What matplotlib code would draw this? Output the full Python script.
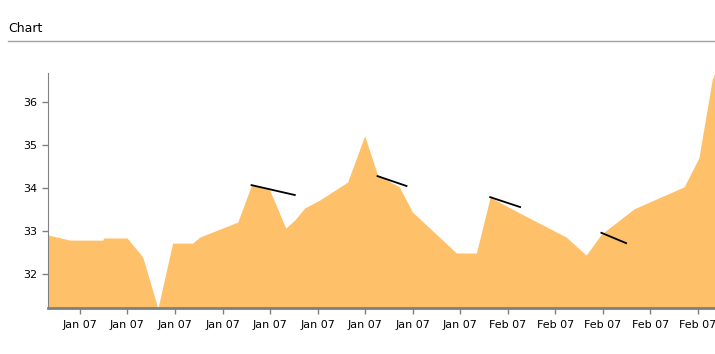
import matplotlib.pyplot as plt
from matplotlib.lines import Line2D

# area series (x in tick units, tick n sits at x = n)
xs = [0.328, 0.79, 1.48, 1.50, 1.99, 2.32, 2.64, 2.95, 3.37, 3.52, 4.32, 4.61,
      4.99, 5.33, 5.52, 5.73, 6.04, 6.63, 6.99, 7.26, 7.72, 7.99, 8.92, 9.34,
      9.63, 10.20, 11.23, 11.65, 11.97, 12.66, 13.71, 14.02, 14.30, 14.36]
vals = [32.91, 32.79, 32.79, 32.84, 32.84, 32.40, 31.20, 32.72, 32.72, 32.86,
        33.21, 34.07, 33.96, 33.07, 33.26, 33.54, 33.72, 34.14, 35.22, 34.31,
        34.03, 33.45, 32.49, 32.49, 33.79, 33.45, 32.86, 32.44, 32.93, 33.52,
        34.03, 34.70, 36.52, 36.70]

# short black trend segments
seg_x = [(4.61, 5.52), (7.26, 7.87), (9.63, 10.26), (11.97, 12.49)]
seg_y = [(34.07, 33.84), (34.28, 34.05), (33.79, 33.56), (32.96, 32.72)]

tick_pos = list(range(1, 15))
tick_labels = ["Jan 07"] * 9 + ["Feb 07"] * 5

fig = plt.figure(figsize=(7.15, 3.54), dpi=100)
fig.text(8 / 715, 1 - 28 / 354, "Chart", fontsize=9, va="center", ha="left")
fig.add_artist(Line2D([8 / 715, 1], [1 - 41 / 354] * 2, color="#a0a0a0", lw=1))

ax = fig.add_axes([48 / 715, 46 / 354, 1 - 48 / 715, 235 / 354])
ax.fill_between(xs, vals, 31.21, color="#fec068", lw=0)
for sx, sy in zip(seg_x, seg_y):
    ax.plot(sx, sy, color="black", lw=1.3)

ax.set_xlim(0.328, 14.36)
ax.set_ylim(31.21, 36.68)
ax.set_yticks([32, 33, 34, 35, 36])
ax.set_xticks(tick_pos)
ax.set_xticklabels(tick_labels)

for s in ["top", "right"]:
    ax.spines[s].set_visible(False)
ax.spines["left"].set_color("#808080")
ax.spines["bottom"].set_color("#808080")
ax.spines["bottom"].set_linewidth(2)
ax.tick_params(axis="both", colors="#808080", labelcolor="black", labelsize=8,
               length=4, width=1)
ax.tick_params(axis="x", pad=5)

fig.savefig("out.png", dpi=100)
